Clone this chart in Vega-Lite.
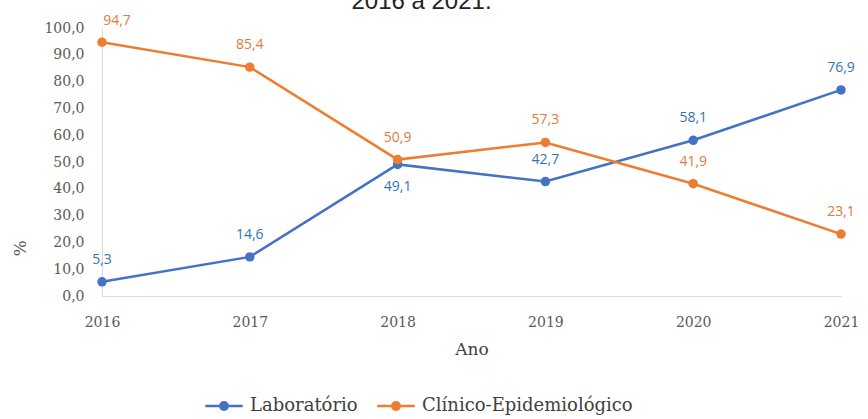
{
  "$schema": "https://vega.github.io/schema/vega-lite/v6.json",
  "width": 739,
  "height": 268,
  "autosize": {"type": "none"},
  "padding": {"left": 102, "top": 28, "right": 27, "bottom": 123},
  "background": "white",
  "title": {"text": "2016 a 2021.", "font": "Liberation Sans", "fontSize": 24, "fontWeight": "normal", "color": "#222222", "dx": -50, "dy": 4, "anchor": "middle"},
  "config": {
    "locale": {"number": {"decimal": ",", "thousands": ".", "grouping": [3], "currency": ["", ""]}},
    "view": {"stroke": null}
  },
  "data": {"values": [
    {"ano": "2016", "serie": "Laboratório", "valor": 5.3},
    {"ano": "2017", "serie": "Laboratório", "valor": 14.6},
    {"ano": "2018", "serie": "Laboratório", "valor": 49.1},
    {"ano": "2019", "serie": "Laboratório", "valor": 42.7},
    {"ano": "2020", "serie": "Laboratório", "valor": 58.1},
    {"ano": "2021", "serie": "Laboratório", "valor": 76.9},
    {"ano": "2016", "serie": "Clínico-Epidemiológico", "valor": 94.7},
    {"ano": "2017", "serie": "Clínico-Epidemiológico", "valor": 85.4},
    {"ano": "2018", "serie": "Clínico-Epidemiológico", "valor": 50.9},
    {"ano": "2019", "serie": "Clínico-Epidemiológico", "valor": 57.3},
    {"ano": "2020", "serie": "Clínico-Epidemiológico", "valor": 41.9},
    {"ano": "2021", "serie": "Clínico-Epidemiológico", "valor": 23.1}
  ]},
  "encoding": {
    "x": {"field": "ano", "type": "ordinal", "scale": {"type": "point", "padding": 0},
      "axis": {"title": "Ano", "labelAngle": 0, "labelFont": "DejaVu Serif", "labelFontSize": 14, "labelColor": "#595959", "labelPadding": 19, "ticks": false, "domainColor": "#d9d9d9", "titleFont": "DejaVu Serif", "titleFontSize": 17, "titleFontWeight": "normal", "titleColor": "#404040", "titlePadding": 12}},
    "y": {"field": "valor", "type": "quantitative", "scale": {"domain": [0, 100]},
      "axis": {"title": "%", "format": ".1f", "values": [0,10,20,30,40,50,60,70,80,90,100], "labelOverlap": false, "grid": false, "ticks": false, "domainColor": "#d9d9d9", "labelFont": "DejaVu Serif", "labelFontSize": 14, "labelColor": "#595959", "labelPadding": 18, "titleFont": "DejaVu Serif", "titleFontSize": 17, "titleFontWeight": "normal", "titleColor": "#595959", "titleY": 220, "titlePadding": 14}}
  },
  "layer": [
    {
      "mark": {"type": "line", "strokeWidth": 2.5, "point": {"filled": true, "size": 90}},
      "encoding": {
        "color": {"field": "serie", "type": "nominal", "sort": ["Laboratório", "Clínico-Epidemiológico"],
          "scale": {"domain": ["Laboratório", "Clínico-Epidemiológico"], "range": ["#4472c4", "#ed7d31"]},
          "legend": {"title": null, "orient": "none", "legendX": 108, "legendY": 364, "direction": "horizontal",
            "labelFont": "DejaVu Serif", "labelFontSize": 18, "labelColor": "#404040", "labelLimit": 0,
            "symbolType": "M-1.5,0L1.5,0M-0.3,0A0.3,0.3 0 1,0 0.3,0A0.3,0.3 0 1,0 -0.3,0Z",
            "symbolSize": 625, "symbolStrokeWidth": 2.5, "labelOffset": 12, "columnPadding": 14}}
      }
    },
    {
      "transform": [{"filter": "!(datum.serie == 'Laboratório' && datum.ano == '2018') && !(datum.serie == 'Clínico-Epidemiológico' && datum.ano == '2016')"}],
      "mark": {"type": "text", "dy": -22, "font": "Open Sans", "fontSize": 14},
      "encoding": {
        "text": {"field": "valor", "type": "quantitative", "format": ".1f"},
        "color": {"condition": {"test": "datum.serie == 'Laboratório'", "value": "#2e75b6"}, "value": "#e07a3a"}
      }
    },
    {
      "transform": [{"filter": "datum.serie == 'Laboratório' && datum.ano == '2018'"}],
      "mark": {"type": "text", "dy": 23, "font": "Open Sans", "fontSize": 14, "color": "#2e75b6"},
      "encoding": {"text": {"field": "valor", "type": "quantitative", "format": ".1f"}}
    },
    {
      "transform": [{"filter": "datum.serie == 'Clínico-Epidemiológico' && datum.ano == '2016'"}],
      "mark": {"type": "text", "dy": -21, "dx": 15, "font": "Open Sans", "fontSize": 14, "color": "#e07a3a"},
      "encoding": {"text": {"field": "valor", "type": "quantitative", "format": ".1f"}}
    }
  ]
}
